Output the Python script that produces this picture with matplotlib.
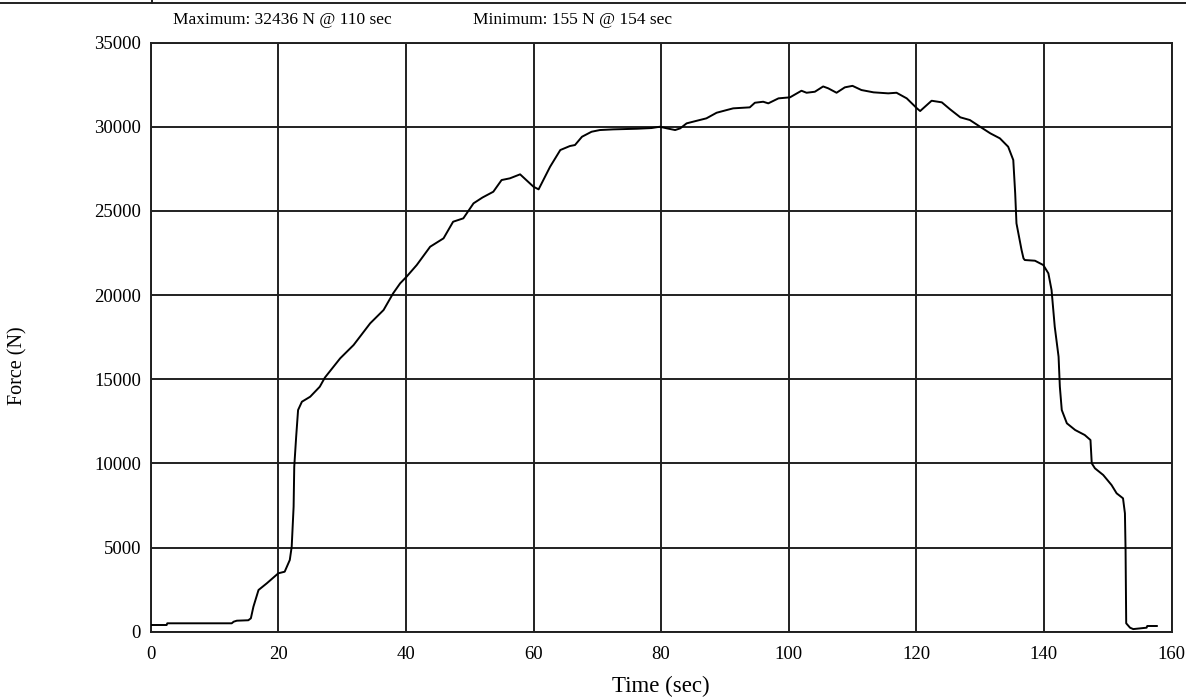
import matplotlib
matplotlib.use("Agg")
import matplotlib.pyplot as plt
from matplotlib.lines import Line2D

# force trace
time_s = [0.0, 2.5, 2.6, 12.7, 13.0, 13.5, 15.3, 15.7, 16.1, 16.9, 18.2, 20.0,
          21.0, 21.8, 22.1, 22.4, 22.5, 22.8, 23.1, 23.7, 25.0, 26.5, 27.3, 29.7,
          31.8, 34.4, 36.5, 38.0, 39.1, 40.1, 41.7, 43.8, 45.9, 47.4, 49.0, 50.6,
          52.0, 53.7, 55.0, 56.3, 57.9, 60.0, 60.8, 62.6, 64.2, 65.7, 66.5, 67.6,
          69.1, 70.4, 72.5, 76.2, 78.5, 79.8, 80.9, 82.2, 83.0, 84.0, 85.6, 87.1,
          88.7, 90.3, 91.3, 93.9, 94.7, 96.0, 96.8, 98.4, 100.2, 102.0, 102.8,
          104.1, 105.4, 106.2, 107.5, 108.8, 110.0, 111.4, 113.3, 115.6, 116.9,
          118.5, 120.1, 120.6, 122.4, 124.0, 125.3, 126.9, 128.4, 130.0, 131.6,
          133.1, 134.4, 135.2, 135.5, 135.7, 136.5, 136.8, 137.0, 138.6, 139.9,
          140.7, 141.2, 141.7, 142.3, 142.5, 142.8, 143.6, 144.9, 146.4, 147.3,
          147.5, 148.0, 149.3, 150.6, 151.4, 152.4, 152.7, 152.8, 152.9, 153.5,
          154.0, 156.1, 156.2, 157.7]
force_n = [398, 398, 499, 499, 594, 654, 680, 796, 1485, 2478, 2876, 3470,
           3565, 4260, 5050, 7427, 9804, 11586, 13173, 13666, 13963, 14557, 15100, 16245,
           17035, 18324, 19115, 20107, 20701, 21093, 21789, 22876, 23375, 24362, 24563, 25455,
           25800, 26144, 26839, 26940, 27178, 26441, 26286, 27629, 28622, 28859, 28919, 29412,
           29709, 29810, 29850, 29887, 29929, 30006, 29911, 29810, 29911, 30207, 30362, 30505,
           30838, 31000, 31099, 31158, 31432, 31492, 31396, 31693, 31753, 32145, 32026,
           32086, 32400, 32288, 32026, 32347, 32436, 32187, 32050, 31990, 32026,
           31693, 31099, 30939, 31551, 31456, 31040, 30565, 30404, 30006, 29614,
           29317, 28818, 28028, 26049, 24266, 22680, 22187, 22086, 22045, 21789,
           21295, 20303, 18122, 16340, 14557, 13173, 12383, 11985, 11688, 11390,
           10006, 9709, 9311, 8717, 8223, 7926, 7035, 4854, 499, 238,
           155, 238, 339, 339]

x_ticks = [0, 20, 40, 60, 80, 100, 120, 140, 160]
y_ticks = [0, 5000, 10000, 15000, 20000, 25000, 30000, 35000]

max_text = "Maximum: 32436 N @ 110 sec"
min_text = "Minimum: 155 N @ 154 sec"

plt.rcParams['font.family'] = ['Liberation Serif', 'DejaVu Serif']

W, H = 1186, 698
fig = plt.figure(figsize=(W / 100, H / 100), dpi=100)
ax = fig.add_axes([150.7 / W, 1 - 631.7 / H, (1171.5 - 150.7) / W, (631.7 - 42.7) / H])

ax.plot(time_s, force_n, color='black', lw=1.4, zorder=3)

ax.set_xlim(0, 160)
ax.set_ylim(0, 35000)
ax.set_xticks(x_ticks)
ax.set_yticks(y_ticks)
ax.set_xticklabels([str(v) for v in x_ticks])
ax.set_yticklabels([str(v) for v in y_ticks])
ax.tick_params(length=0, labelsize=13.5)
ax.tick_params(axis='x', pad=10)
ax.tick_params(axis='y', pad=7)
ax.grid(True, color='#202020', lw=1.4)
ax.set_axisbelow(True)
for sp in ax.spines.values():
    sp.set_color('#202020')
    sp.set_linewidth(1.4)

ax.set_xlabel("Time (sec)", fontsize=16.5, va='center')
ax.set_ylabel("Force (N)", fontsize=14.5, va='center')
ax.xaxis.set_label_coords(0.5, -(686 - 631.7) / 589)
ax.yaxis.set_label_coords((18 - 150.7) / 1020.8, 0.5 - (365 - 337) / 589)

fig.text(173 / W, 1 - 20 / H, max_text, fontsize=12.5, va='center', ha='left')
fig.text(473 / W, 1 - 20 / H, min_text, fontsize=12.5, va='center', ha='left')

# rule across the top of the page
fig.add_artist(Line2D([0, 1], [1 - 3 / H, 1 - 3 / H], transform=fig.transFigure,
                      color='#202020', lw=1.4))
fig.add_artist(Line2D([152 / W, 152 / W], [1 - 3 / H, 1], transform=fig.transFigure,
                      color='#202020', lw=1.4))

fig.savefig("out.png", dpi=100)
